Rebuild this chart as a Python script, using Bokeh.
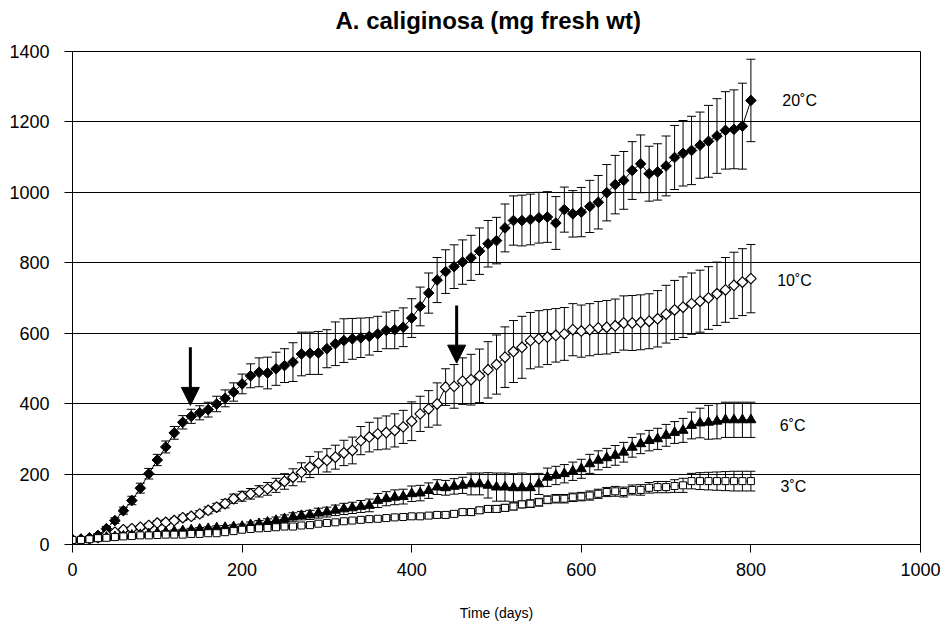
import math
from bokeh.plotting import figure
from bokeh.models import (ColumnDataSource, Whisker, TeeHead, FixedTicker, Range1d,
                          Arrow, NormalHead, Title)
from bokeh.core.properties import value
from bokeh.embed import file_html
from bokeh.resources import INLINE

FONT = "Liberation Sans"

days = list(range(0, 801, 10))

t20 = [13, 15, 19, 26, 45, 68, 96, 125, 160, 201,
       240, 277, 317, 347, 364, 374, 383, 399, 415, 433,
       456, 479, 489, 487, 499, 508, 518, 541, 543, 544,
       556, 570, 579, 584, 587, 591, 598, 608, 610, 617,
       643, 676, 714, 751, 775, 789, 802, 814, 833, 854,
       863, 899, 920, 920, 923, 928, 930, 913, 951, 939,
       944, 960, 972, 999, 1022, 1034, 1062, 1081, 1053, 1058,
       1075, 1099, 1111, 1119, 1134, 1145, 1160, 1176, 1179, 1188,
       1261]
e20 = [3, 3, 4, 5, 6, 8, 10, 12, 14, 15,
       16, 17, 18, 19, 20, 20, 21, 22, 24, 26,
       28, 34, 41, 45, 47, 48, 55, 62, 60, 61,
       54, 62, 62, 58, 56, 53, 50, 52, 54, 55,
       55, 55, 57, 64, 62, 62, 63, 64, 66, 66,
       66, 68, 70, 72, 72, 72, 72, 75, 64, 66,
       70, 74, 76, 80, 83, 82, 82, 82, 78, 80,
       85, 91, 93, 97, 94, 102, 106, 110, 112, 122,
       117]

t10 = [13, 14, 16, 20, 28, 35, 42, 45, 49, 54,
       61, 63, 68, 76, 80, 87, 97, 106, 116, 130,
       137, 144, 151, 158, 168, 179, 191, 205, 220, 231,
       239, 248, 260, 267, 295, 305, 314, 318, 324, 334,
       350, 371, 385, 399, 447, 449, 464, 468, 479, 496,
       511, 532, 548, 560, 579, 584, 589, 594, 598, 610,
       606, 610, 615, 617, 621, 629, 629, 631, 634, 641,
       654, 666, 674, 684, 691, 700, 712, 723, 736, 745,
       755]
e10 = [2, 2, 2, 3, 3, 4, 4, 5, 5, 6,
       6, 7, 7, 8, 8, 9, 10, 11, 12, 13,
       14, 15, 16, 18, 20, 22, 24, 27, 30, 32,
       33, 34, 36, 38, 40, 42, 45, 47, 47, 47,
       55, 50, 52, 60, 52, 62, 66, 72, 76, 80,
       84, 86, 88, 88, 80, 80, 78, 76, 75, 74,
       74, 74, 75, 76, 76, 77, 78, 78, 78, 80,
       82, 84, 86, 87, 88, 89, 90, 92, 94, 95,
       97]

t6 = [13, 14, 16, 18, 20, 22, 24, 26, 28, 30,
      33, 35, 37, 39, 41, 43, 45, 47, 48, 50,
      51, 56, 59, 63, 68, 73, 78, 82, 84, 89,
      92, 97, 101, 104, 108, 111, 125, 130, 134, 136,
      144, 146, 153, 163, 161, 165, 168, 172, 172, 168,
      163, 163, 161, 161, 161, 172, 191, 196, 201, 208,
      215, 229, 239, 246, 253, 262, 276, 286, 295, 300,
      310, 318, 324, 338, 345, 347, 350, 354, 354, 354,
      354]
e6 = [1, 1, 1, 1, 2, 2, 2, 2, 3, 3,
      3, 4, 4, 4, 5, 5, 5, 6, 6, 6,
      7, 8, 9, 10, 10, 11, 12, 12, 13, 14,
      14, 15, 16, 16, 17, 18, 20, 20, 21, 21,
      22, 22, 22, 21, 21, 22, 23, 31, 31, 36,
      40, 40, 40, 42, 40, 30, 26, 26, 26, 26,
      27, 27, 27, 27, 28, 28, 28, 28, 29, 30,
      31, 31, 34, 38, 42, 48, 50, 50, 50, 50,
      50]

t3 = [13, 13, 15, 18, 19, 21, 23, 24, 26, 26,
      27, 28, 28, 28, 30, 30, 32, 32, 35, 38,
      42, 44, 46, 47, 49, 51, 51, 54, 55, 59,
      61, 63, 66, 68, 70, 72, 73, 75, 77, 78,
      80, 80, 82, 84, 84, 87, 92, 92, 97, 101,
      101, 104, 108, 114, 116, 120, 127, 130, 130, 134,
      136, 139, 144, 149, 151, 149, 155, 155, 161, 163,
      163, 166, 168, 180, 180, 180, 180, 180, 180, 180,
      180]
e3 = [1, 1, 1, 1, 1, 1, 1, 1, 2, 2,
      2, 2, 2, 2, 2, 3, 3, 3, 3, 3,
      3, 4, 4, 4, 4, 4, 4, 5, 5, 5,
      5, 5, 5, 6, 6, 6, 6, 6, 6, 7,
      7, 7, 7, 8, 8, 8, 8, 9, 9, 9,
      10, 10, 10, 10, 11, 11, 11, 12, 12, 12,
      12, 13, 13, 13, 14, 14, 14, 15, 15, 16,
      16, 18, 20, 22, 24, 25, 26, 27, 28, 28,
      28]

series_labels = ["20\u02daC", "10\u02daC", "6\u02daC", "3\u02daC"]
label_x = [837, 831, 834, 835]
label_y = [1261, 750, 338, 165]

arrow_x = [139, 453]
arrow_top = [560, 679]
arrow_tip = [395, 515]

x_ticks = [0, 200, 400, 600, 800, 1000]
y_ticks = [0, 200, 400, 600, 800, 1000, 1200, 1400]

p = figure(width=941, height=623, output_backend="svg", toolbar_location=None,
           x_range=Range1d(0, 1000), y_range=Range1d(0, 1400),
           title="A. caliginosa (mg fresh wt)",
           min_border_left=72, min_border_right=21, min_border_top=51,
           min_border_bottom=79)
p.background_fill_color = "white"
p.border_fill_color = "white"
p.outline_line_color = "black"
p.outline_line_width = 1

p.title.align = "left"
p.title.offset = 263
p.title.text_font = FONT
p.title.text_font_size = "24px"
p.title.text_font_style = "bold"
p.title.text_color = "black"
p.title.standoff = 6

# empty spacer between the frame and the title
p.add_layout(Title(text=" ", text_font_size="10px", standoff=2), "above")

p.xgrid.visible = False
p.ygrid.grid_line_color = "black"
p.ygrid.grid_line_width = 1
p.ygrid.grid_line_alpha = 1.0

for ax in (p.xaxis[0], p.yaxis[0]):
    ax.axis_line_color = "black"
    ax.axis_line_width = 1
    ax.major_tick_line_color = "black"
    ax.major_tick_out = 8
    ax.major_tick_in = 0
    ax.minor_tick_line_color = None
    ax.major_label_text_font = FONT
    ax.major_label_text_font_size = "18px"
    ax.major_label_text_color = "black"

p.xaxis.ticker = FixedTicker(ticks=x_ticks)
p.yaxis.ticker = FixedTicker(ticks=y_ticks)
p.xaxis.major_label_standoff = 10
p.yaxis.major_label_standoff = 15
p.xaxis.axis_label = "Time (days)"
p.xaxis.axis_label_text_font = FONT
p.xaxis.axis_label_text_font_size = "14px"
p.xaxis.axis_label_text_font_style = "normal"
p.xaxis.axis_label_text_color = "black"
p.xaxis.axis_label_standoff = 26

styles = [
    (t20, e20, dict(marker="square", angle=math.pi / 4, size=7.5, fill_color="black", line_color="black", line_width=1)),
    (t10, e10, dict(marker="square", angle=math.pi / 4, size=7.5, fill_color="white", line_color="black", line_width=1.2)),
    (t6, e6, dict(marker="triangle", size=10, fill_color="black", line_color="black", line_width=1)),
    (t3, e3, dict(marker="square", size=7, fill_color="white", line_color="black", line_width=1)),
]

for vals, errs, st in styles:
    src = ColumnDataSource(dict(x=days, y=vals,
                                upper=[v + e for v, e in zip(vals, errs)],
                                lower=[v - e for v, e in zip(vals, errs)]))
    w = Whisker(source=src, base="x", upper="upper", lower="lower",
                line_color="black", line_width=1,
                upper_head=TeeHead(size=9, line_color="black", line_width=1),
                lower_head=TeeHead(size=9, line_color="black", line_width=1))
    p.add_layout(w)
    p.line("x", "y", source=src, line_color="black", line_width=1)
    p.scatter("x", "y", source=src, **st)

lab_src = ColumnDataSource(dict(x=label_x, y=label_y, t=series_labels))
p.text("x", "y", text="t", source=lab_src, text_font=value(FONT),
       text_font_size="16px", text_align="left", text_baseline="middle",
       text_color="black")

for ax_, top_, tip_ in zip(arrow_x, arrow_top, arrow_tip):
    p.add_layout(Arrow(end=NormalHead(size=18, fill_color="black", line_color="black"),
                       x_start=ax_, y_start=top_, x_end=ax_, y_end=tip_,
                       line_color="black", line_width=3))

open("out.html", "w").write(file_html(p, INLINE))
